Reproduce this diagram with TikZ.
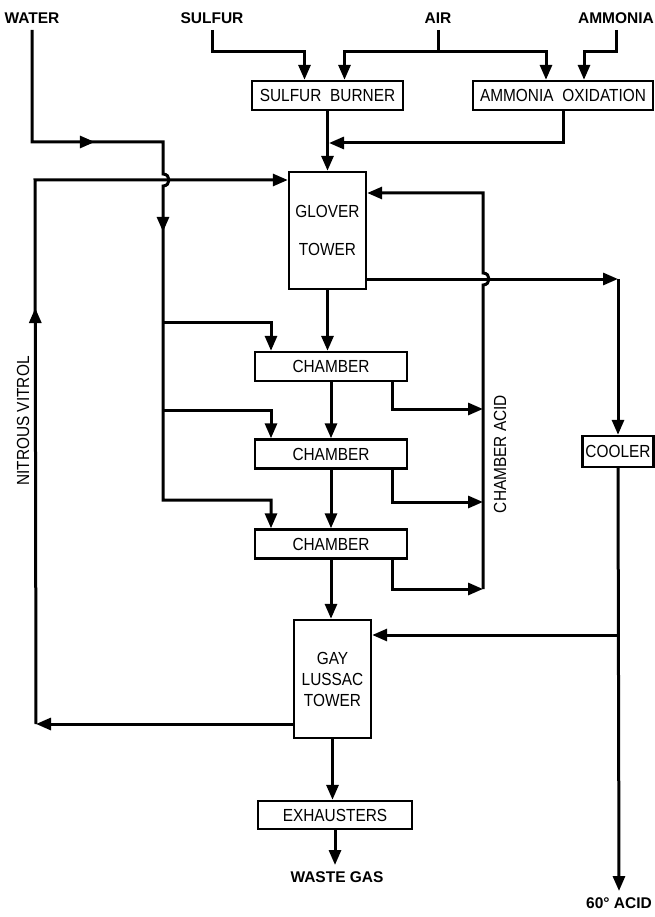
\documentclass[tikz,border=0pt]{standalone}
\usepackage{fontspec}
\setmainfont{Liberation Sans}
\newfontfamily\unitfont{Liberation Sans}[FakeStretch=0.88]
\usetikzlibrary{arrows.meta,calc,decorations.markings}

\begin{document}
\begin{tikzpicture}[x=1pt,y=-1pt,line width=3pt,>={Triangle[length=15pt,width=12pt]},
    unit/.style={draw,line width=2.4pt,inner sep=0pt,align=center,font=\unitfont\fontsize{17.5}{21}\selectfont},
    stream/.style={inner sep=5pt,font=\fontsize{15.5}{18}\selectfont\bfseries},
    side/.style={rotate=90,inner sep=0pt,font=\unitfont\fontsize{17.5}{21}\selectfont},
    midarrow/.style={postaction={decorate},decoration={markings,mark=at position #1 with {\arrow{>}}}}]
  \useasboundingbox (0,0) rectangle (654,917);

  % feed streams
  \node[stream] (water) at (32,18) {WATER};
  \node[stream] (sulfur) at (212,18) {SULFUR};
  \node[stream] (air) at (438,18) {AIR};
  \node[stream] (ammonia) at (616,18) {AMMONIA};

  % process units
  \node[unit,minimum width=151pt,minimum height=29pt] (burner) at (327.5,95.5) {SULFUR\enspace BURNER};
  \node[unit,minimum width=180pt,minimum height=29pt] (ammox) at (563,95.5) {AMMONIA\enspace OXIDATION};
  \node[unit,minimum width=77pt,minimum height=117pt] (glover) at (327.5,230.5) {GLOVER\\[17pt]TOWER};
  \node[unit,minimum width=152pt,minimum height=29pt] (ch1) at (331,366.5) {CHAMBER};
  \node[unit,minimum width=152pt,minimum height=29pt] (ch2) at (331,454) {CHAMBER};
  \node[unit,minimum width=152pt,minimum height=29pt] (ch3) at (331,544) {CHAMBER};
  \node[unit,minimum width=77pt,minimum height=118pt] (gl) at (332.5,679) {GAY\\LUSSAC\\TOWER};
  \node[unit,minimum width=154pt,minimum height=28pt] (exh) at (335,815) {EXHAUSTERS};
  \node[unit,minimum width=71pt,minimum height=31pt] (cooler) at (618,451.5) {COOLER};

  % products and side labels
  \node[stream] (waste) at (337,877) {WASTE GAS};
  \node[stream] (acid60) at (619,903) {60° ACID};
  \node[side] (nitrous) at (23,421) {NITROUS VITROL};
  \node[side] (acidtag) at (500,454) {CHAMBER ACID};

  \coordinate (wbend) at (32,142);
  \coordinate (wover) at (163,142);
  \coordinate (br1) at (163,322);
  \coordinate (br2) at (163,410);
  \coordinate (br3) at (163,500);
  \coordinate (airsplit) at (438,52);
  \coordinate (mix) at (329,143);
  \coordinate (nvtop) at (35,180);
  \coordinate (nvbot) at (36,724);
  \coordinate (acid1) at (483,409);
  \coordinate (acid2) at (483,502);
  \coordinate (acid3) at (483,589);
  \coordinate (acidtop) at (483,193);
  \coordinate (coolin) at (618,279);
  \coordinate (glin) at (618,635);

  % raw materials
  \draw[->] (sulfur.south) -- (sulfur.south |- airsplit) -| ([xshift=-23pt]burner.north);
  \draw (air.south) -- (airsplit);
  \draw[->] (airsplit) -| ([xshift=17pt]burner.north);
  \draw[->] (airsplit) -| ([xshift=-17pt]ammox.north);
  \draw[->] (ammonia.south) -- (ammonia.south |- airsplit) -| ([xshift=21pt]ammox.north);
  \draw[->] (burner.south) -- (glover.north);
  \draw[->] (ammox.south) |- (mix);

  % water to the chambers, hopping the nitrous vitrol line
  \draw[postaction={decorate},decoration={markings,mark=at position 175pt with {\arrow{>}},
        mark=at position 340pt with {\arrow{>}}},->]
    (water.south) -- (wbend) -- (wover) -- (163,174) .. controls (171,174) and (171,186) .. (163,186)
    -- (br3) -| ([xshift=-60pt]ch3.north);
  \draw[->] (br1) -| ([xshift=-60pt]ch1.north);
  \draw[->] (br2) -| ([xshift=-60pt]ch2.north);

  % gas train
  \draw[->] (glover.south) -- (glover.south |- ch1.north);
  \draw[->] (ch1.south) -- (ch1.south |- ch2.north);
  \draw[->] (ch2.south) -- (ch2.south |- ch3.north);
  \draw[->] (ch3.south) -- (ch3.south |- gl.north);
  \draw[->] (gl.south) -- (gl.south |- exh.north);
  \draw[->] (exh.south) -- (exh.south |- waste.north);

  % nitrous vitrol back to the glover
  \draw[->] (gl.west |- nvbot) -- (nvbot);
  \draw[midarrow=416pt,->] (nvbot) -- (nvtop) -- (glover.west |- nvtop);

  % chamber acid
  \draw[->] ([xshift=61pt]ch1.south) |- (acid1);
  \draw[->] ([xshift=61pt]ch2.south) |- (acid2);
  \draw[->] ([xshift=61pt]ch3.south) |- (acid3);
  \draw[->] (acid3) -- (483,285) .. controls (491,285) and (491,273) .. (483,273)
    -- (acidtop) -- (glover.east |- acidtop);

  % glover acid through the cooler
  \draw[->] (glover.east |- coolin) -- (coolin);
  \draw[->] (coolin) -- (cooler.north);
  \draw[->] (cooler.south) -- (acid60.north);
  \draw[->] (glin) -- (gl.east |- glin);
\end{tikzpicture}
\end{document}
